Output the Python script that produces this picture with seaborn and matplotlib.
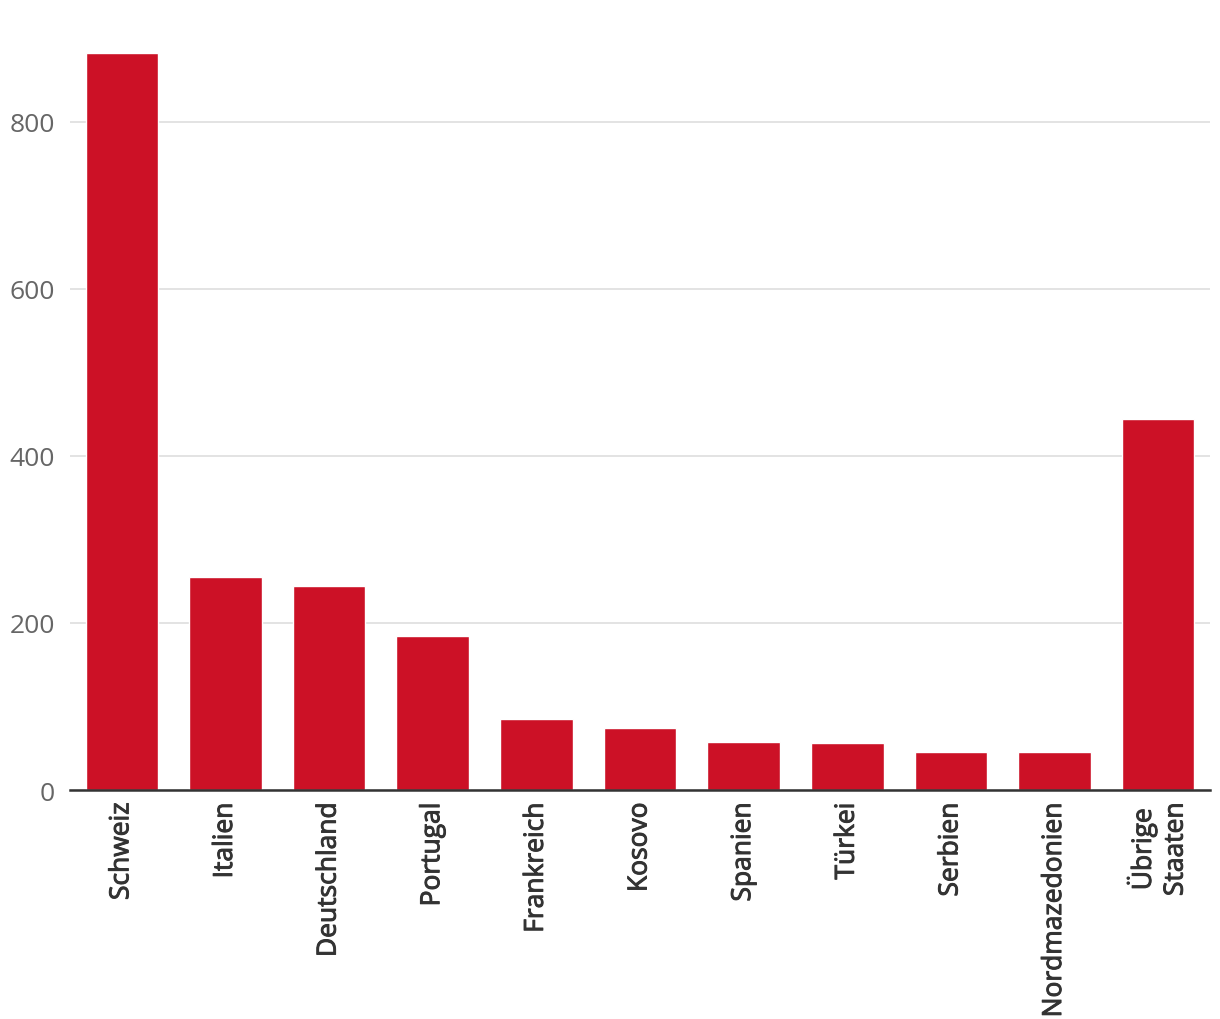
import matplotlib
matplotlib.use("Agg")
import matplotlib.pyplot as plt
import matplotlib.patheffects as pe
import seaborn as sns
import pandas as pd

categories = ["Schweiz", "Italien", "Deutschland", "Portugal", "Frankreich", "Kosovo",
              "Spanien", "Türkei", "Serbien", "Nordmazedonien", "Übrige\nStaaten"]
values = [882, 255, 244, 184, 85, 74, 58, 56, 46, 45, 444]
yticks = [0, 200, 400, 600, 800]

sns.set_theme(style="white")
plt.rcParams['font.family'] = ['Open Sans', 'DejaVu Sans']

df = pd.DataFrame({"Land": categories, "Wert": values})

fig = plt.figure(figsize=(12.2, 10.2), dpi=100)
ax = fig.add_axes([0.0574, 0.2245, 0.9344, 0.7696])
sns.barplot(data=df, x="Land", y="Wert", color="#CC1126", saturation=1, width=0.7, ax=ax)

ax.set_xlim(-0.5, len(categories) - 0.5)
ax.set_ylim(0, 940)
ax.set_yticks(yticks)
ax.set_yticklabels([str(t) for t in yticks], fontsize=19, color="#666666")
ax.yaxis.grid(True, color="#e0e0e0", linewidth=1.3)
ax.set_axisbelow(True)
ax.set_xlabel("")
ax.set_ylabel("")
for s in ["top", "right", "left"]:
    ax.spines[s].set_visible(False)
ax.spines["bottom"].set_color("#333333")
ax.spines["bottom"].set_linewidth(1.8)
ax.tick_params(axis="y", length=0, pad=11)
ax.tick_params(axis="x", length=0, pad=9)
ax.set_xticks(range(len(categories)))
ax.set_xticklabels(categories, rotation=90, fontsize=19, color="#333333",
                   ha="center", va="top", multialignment="center", linespacing=1.35)
for lbl in ax.get_xticklabels():
    lbl.set_path_effects([pe.withStroke(linewidth=0.7, foreground="#333333")])

fig.savefig("out.png", dpi=100)
